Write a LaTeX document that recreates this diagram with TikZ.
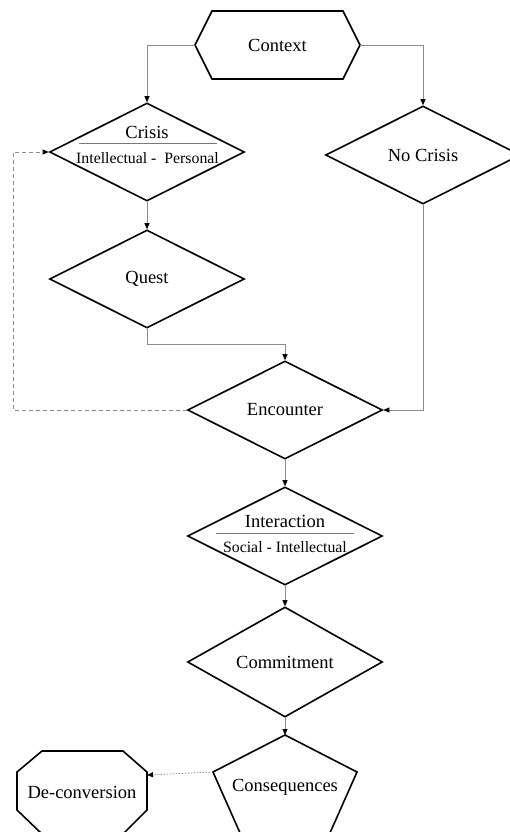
\documentclass[tikz,border=0pt]{standalone}
\usepackage{fontspec}
\setmainfont{Liberation Serif}
\usetikzlibrary{shapes.geometric,arrows.meta}
\definecolor{conncol}{RGB}{140,140,140}
\definecolor{rulecol}{RGB}{120,120,120}
\newcommand{\mainsz}{\fontsize{18.5pt}{21pt}\selectfont}
\newcommand{\subsz}{\fontsize{15.8pt}{18pt}\selectfont}
\begin{document}
\begin{tikzpicture}[x=1pt,y=-1pt,
  shp/.style={draw=black, line width=1.6pt, line join=miter},
  dia/.style={shp, diamond, minimum width=195pt, minimum height=98pt, inner sep=0pt, font=\mainsz},
  lbl/.style={inner sep=0pt, font=\mainsz},
  sublbl/.style={inner sep=0pt, font=\subsz},
  conn/.style={draw=conncol, line width=0.8pt, -{Triangle[length=6pt,width=5pt,color=black]}},
  divrule/.style={draw=rulecol, line width=0.6pt}]
\useasboundingbox (0,0) rectangle (510,832);
\clip (0,0) rectangle (510,832);
% Context hexagon
\node[lbl, minimum width=131pt, minimum height=68pt] (ctx) at (277.5,45) {Context};
\coordinate (ctxL) at (195,45);
\coordinate (ctxR) at (360,45);
\draw[shp] (212,11) -- (343,11) -- (ctxR) -- (343,79) -- (212,79) -- (ctxL) -- cycle;
% diamonds
\node[dia] (crisis) at (147,152) {};
\node[lbl] (crisisT) at (147,132) {Crisis};
\coordinate (crL) at (79,143);
\coordinate (crR) at (217,143);
\draw[divrule] (crL) -- (crR);
\node[sublbl] (crisisS) at (147.5,158) {Intellectual -\ \ Personal};
\node[dia] (nocrisis) at (423,155) {No Crisis};
\node[dia] (quest) at (147,279) {Quest};
\node[dia] (enc) at (285,410) {Encounter};
\node[dia] (inter) at (285,536) {};
\node[lbl] (interT) at (285,521) {Interaction};
\coordinate (inL) at (216,533);
\coordinate (inR) at (354,533);
\draw[divrule] (inL) -- (inR);
\node[sublbl] (interS) at (285,547) {Social - Intellectual};
\node[dia] (commit) at (285,662) {Commitment};
% Consequences pentagon
\coordinate (conT) at (285,735);
\coordinate (conUL) at (213,772);
\coordinate (conUR) at (357,772);
\draw[shp] (conT) -- (conUR) -- (329.5,834) -- (240.5,834) -- (conUL) -- cycle;
\node[lbl] (cons) at (285,787) {Consequences};
% De-conversion octagon
\draw[shp] (42,751) -- (123,751) -- (147,772) -- (147,810) -- (123,834) -- (42,834) -- (17,810) -- (17,772) -- cycle;
\coordinate (deR) at (147,775);
\node[lbl] (deconv) at (82,792) {De-conversion};
% connectors
\draw[conn] (ctxL) -| (crisis.north);
\draw[conn] (ctxR) -| (nocrisis.north);
\draw[conn] (crisis.south) -- (quest.north);
\coordinate (qbend) at (147,344);
\draw[conn] (quest.south) -- (qbend) -| (enc.north);
\draw[conn] (nocrisis.south) |- (enc.east);
\coordinate (loop) at (13,410);
\draw[conn, dash pattern=on 4pt off 3pt] (enc.west) -- (loop) |- (crisis.west);
\draw[conn] (enc.south) -- (inter.north);
\draw[conn] (inter.south) -- (commit.north);
\draw[conn] (commit.south) -- (conT);
\draw[conn, dash pattern=on 1.5pt off 1.5pt] (conUL) -- (deR);
\end{tikzpicture}
\end{document}
